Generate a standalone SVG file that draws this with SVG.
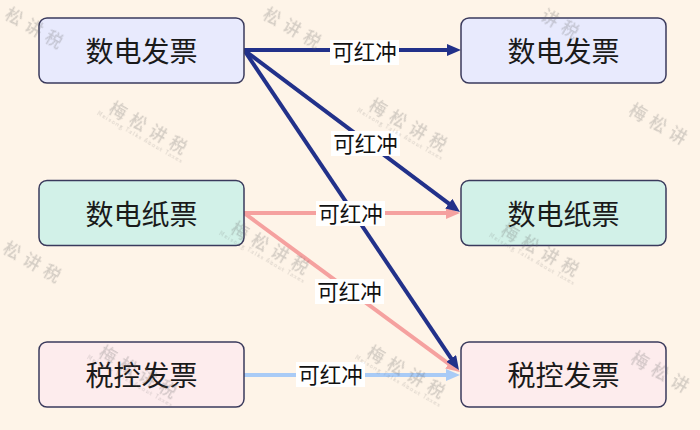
<svg xmlns="http://www.w3.org/2000/svg" width="700" height="430" viewBox="0 0 700 430">
<defs>
<style>
.node rect{stroke:#3a3a5c;stroke-width:1.5}
.node text{font-family:"Noto Sans CJK SC","Noto Sans",sans-serif;font-size:28px;fill:#1a1a1a;text-anchor:middle}
.edge{fill:none;stroke-width:4}
.navy{stroke:#22318a}
.pink{stroke:#f5a19f}
.lblue{stroke:#a9cbf6}
.lbl rect{fill:#ffffff}
.lbl text{font-family:"Noto Sans CJK SC","Noto Sans",sans-serif;font-size:21.5px;fill:#111;text-anchor:middle}
.wm text{font-family:"Noto Sans CJK SC","Noto Sans",sans-serif;fill:#6a6a6a;text-anchor:middle}
.wm .big{font-size:17px;font-weight:500;letter-spacing:6px}
.wm .small{font-size:5.5px;letter-spacing:1.2px}
</style>
<marker id="aNavy" markerUnits="userSpaceOnUse" markerWidth="14" markerHeight="12" refX="6" refY="6" orient="auto"><path d="M0,0 L14,6 L0,12 z" fill="#22318a"/></marker>
<marker id="aPink" markerUnits="userSpaceOnUse" markerWidth="14" markerHeight="12" refX="6" refY="6" orient="auto"><path d="M0,0 L14,6 L0,12 z" fill="#f5a19f"/></marker>
<marker id="aBlue" markerUnits="userSpaceOnUse" markerWidth="14" markerHeight="12" refX="6" refY="6" orient="auto"><path d="M0,0 L14,6 L0,12 z" fill="#a9cbf6"/></marker>
</defs>
<rect x="0" y="0" width="700" height="430" fill="#fef4e8"/>

<g id="connectors">
<line class="edge lblue" x1="244" y1="375" x2="452" y2="375" marker-end="url(#aBlue)"/>
<line class="edge pink" x1="244" y1="213" x2="452" y2="213" marker-end="url(#aPink)"/>
<line class="edge pink" x1="244" y1="213" x2="453.6" y2="367.3" marker-end="url(#aPink)"/>
<line class="edge navy" x1="244" y1="50" x2="453" y2="50" marker-end="url(#aNavy)"/>
<line class="edge navy" x1="244" y1="50" x2="453.6" y2="207.2" marker-end="url(#aNavy)"/>
<line class="edge navy" x1="244" y1="50" x2="454.5" y2="363.4" marker-end="url(#aNavy)"/>
<g class="lbl">
<rect x="330" y="40" width="69" height="25"/><text x="364.5" y="60">可红冲</text>
<rect x="331" y="131" width="69" height="25"/><text x="365.5" y="151.5">可红冲</text>
<rect x="316" y="201" width="69" height="25"/><text x="350.5" y="221.5">可红冲</text>
<rect x="315" y="279" width="69" height="25"/><text x="349.5" y="299.5">可红冲</text>
<rect x="296" y="362" width="69" height="25"/><text x="330.5" y="382.5">可红冲</text>
</g>
</g>

<g id="n-left-digital" class="node"><rect x="39" y="18" width="205" height="65" rx="8" fill="#e8eafd"/><text x="141.5" y="62">数电发票</text></g>
<g id="n-left-paper" class="node"><rect x="39" y="180.5" width="205" height="65" rx="8" fill="#d2f1e8"/><text x="141.5" y="224.5">数电纸票</text></g>
<g id="n-left-taxctrl" class="node"><rect x="39" y="342" width="205" height="65" rx="8" fill="#fdeced"/><text x="141.5" y="386">税控发票</text></g>
<g id="n-right-digital" class="node"><rect x="461" y="18" width="205" height="65" rx="8" fill="#e8eafd"/><text x="563.5" y="62">数电发票</text></g>
<g id="n-right-paper" class="node"><rect x="461" y="180.5" width="205" height="65" rx="8" fill="#d2f1e8"/><text x="563.5" y="224.5">数电纸票</text></g>
<g id="n-right-taxctrl" class="node"><rect x="461" y="342" width="205" height="65" rx="8" fill="#fdeced"/><text x="563.5" y="386">税控发票</text></g>

<g id="watermark" class="wm" opacity="0.28">
<g transform="translate(34,28) rotate(30)"><text class="big" x="3" y="6">松讲税</text></g>
<g transform="translate(292,28) rotate(30)"><text class="big" x="3" y="6">松讲税</text></g>
<g transform="translate(560,24) rotate(30)"><text class="big" x="3" y="6">讲税</text></g>
<g transform="translate(148,128) rotate(30)"><text class="big" x="3" y="6">梅松讲税</text><text class="small" x="-2" y="14">Meisong Talks About Taxes</text></g>
<g transform="translate(408,125) rotate(30)"><text class="big" x="3" y="6">梅松讲税</text><text class="small" x="-2" y="14">Meisong Talks About Taxes</text></g>
<g transform="translate(658,124) rotate(30)"><text class="big" x="3" y="6">梅松讲</text></g>
<g transform="translate(32,262) rotate(30)"><text class="big" x="3" y="6">松讲税</text></g>
<g transform="translate(270,248) rotate(30)"><text class="big" x="3" y="6">梅松讲税</text><text class="small" x="-2" y="14">Meisong Talks About Taxes</text></g>
<g transform="translate(540,250) rotate(30)"><text class="big" x="3" y="6">梅松讲税</text><text class="small" x="-2" y="14">Meisong Talks About Taxes</text></g>
<g transform="translate(138,372) rotate(30)"><text class="big" x="3" y="6">梅松讲税</text><text class="small" x="-2" y="14">Meisong Talks About Taxes</text></g>
<g transform="translate(406,372) rotate(30)"><text class="big" x="3" y="6">梅松讲税</text><text class="small" x="-2" y="14">Meisong Talks About Taxes</text></g>
<g transform="translate(660,372) rotate(30)"><text class="big" x="3" y="6">梅松讲</text></g>
</g>
</svg>
